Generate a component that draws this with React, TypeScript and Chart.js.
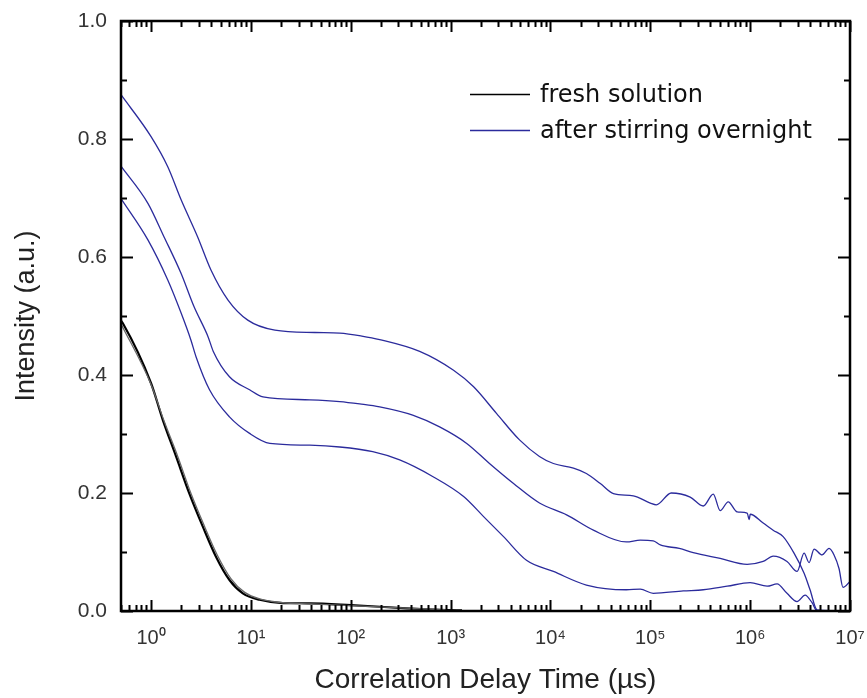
import React, { useEffect, useRef } from "react";
import { Chart, registerables } from "chart.js";

Chart.register(...registerables);

// ---------- data ----------
const X_TICKS = [1, 10, 100, 1000, 10000, 100000, 1000000, 10000000];
const X_TICK_LABELS = ["10⁰", "10¹", "10²", "10³", "10⁴", "10⁵", "10⁶", "10⁷"];
const Y_TICKS = [0, 0.2, 0.4, 0.6, 0.8, 1.0];
const Y_TICK_LABELS = ["0.0", "0.2", "0.4", "0.6", "0.8", "1.0"];
const LEGEND_LABELS = ["fresh solution", "after stirring overnight"];
const X_TITLE = "Correlation Delay Time (µs)";
const Y_TITLE = "Intensity (a.u.)";

// fresh solution (two overlapping runs)
const freshT = [0.5, 0.52, 1, 1.31, 1.78, 2.42, 3.3, 4.47, 6.1, 8.3, 12.2, 20.9, 39, 100, 363, 575, 912, 1300];
const freshI = [0.492, 0.488, 0.386, 0.324, 0.262, 0.199, 0.143, 0.092, 0.0525, 0.03, 0.019, 0.0135, 0.013, 0.01, 0.0046, 0.003, 0.0017, 0.001];
const fresh2T = [0.5, 1, 1.35, 1.85, 2.5, 3.4, 4.6, 6.3, 8.6, 12.5, 21, 40, 100, 360, 900];
const fresh2I = [0.487, 0.384, 0.322, 0.262, 0.2, 0.145, 0.095, 0.055, 0.032, 0.02, 0.014, 0.012, 0.009, 0.005, 0.002];

// after stirring overnight – upper curve
const topT = [0.5, 1, 1.47, 2.0, 2.93, 3.98, 5.9, 9.3, 17.4, 43.7, 77.6, 129, 195, 490, 1070, 1700, 2880, 4900, 7760, 10700, 17000, 22900, 31600, 42700, 67600, 100000, 115000, 162000, 251000, 339000, 427000, 501000, 603000, 741000, 933000, 980000, 1000000, 1350000, 1700000, 2140000, 2750000, 3470000, 3980000, 4680000, 10000000];
const topI = [0.875, 0.804, 0.753, 0.697, 0.634, 0.578, 0.527, 0.493, 0.476, 0.472, 0.471, 0.466, 0.46, 0.44, 0.408, 0.38, 0.335, 0.29, 0.262, 0.25, 0.242, 0.233, 0.216, 0.199, 0.195, 0.183, 0.18, 0.2, 0.193, 0.178, 0.198, 0.17, 0.185, 0.168, 0.166, 0.155, 0.164, 0.149, 0.137, 0.126, 0.098, 0.064, 0.036, 0.002, 0];

// after stirring overnight – middle curve
const midT = [0.5, 0.93, 1.35, 2.0, 2.69, 3.72, 4.2, 6.1, 9.7, 13.2, 38.9, 77.6, 123, 195, 417, 776, 1450, 2450, 4270, 7760, 14500, 26900, 57500, 79400, 107000, 126000, 195000, 269000, 501000, 933000, 1350000, 1700000, 2340000, 2950000, 3470000, 3890000, 4370000, 5250000, 6170000, 6920000, 7760000, 8510000, 10000000];
const midI = [0.754, 0.691, 0.634, 0.572, 0.516, 0.465, 0.44, 0.397, 0.375, 0.363, 0.358, 0.355, 0.351, 0.346, 0.332, 0.312, 0.284, 0.25, 0.216, 0.183, 0.163, 0.137, 0.117, 0.12, 0.119, 0.112, 0.106, 0.099, 0.089, 0.079, 0.084, 0.093, 0.084, 0.067, 0.098, 0.082, 0.105, 0.095, 0.106, 0.095, 0.072, 0.04, 0.05];

// after stirring overnight – lower curve
const lowT = [0.5, 0.93, 1.47, 2.0, 2.51, 2.82, 3.85, 6.1, 9.7, 15.5, 38.9, 77.6, 166, 309, 661, 1350, 2140, 3390, 5750, 10700, 22900, 57500, 79400, 107000, 214000, 339000, 589000, 1000000, 1480000, 1860000, 2340000, 2950000, 3550000, 4170000, 4680000, 10000000];
const lowI = [0.699, 0.629, 0.561, 0.505, 0.459, 0.431, 0.375, 0.329, 0.301, 0.284, 0.281, 0.278, 0.27, 0.256, 0.228, 0.194, 0.16, 0.126, 0.086, 0.067, 0.044, 0.036, 0.037, 0.03, 0.034, 0.036, 0.042, 0.048, 0.042, 0.046, 0.03, 0.016, 0.027, 0.014, 0, 0];

const BLUE = "#2b2b9c";
const FONT = '"Liberation Sans", Arial, sans-serif';

const pts = (t: number[], v: number[]) => t.map((x, i) => ({ x, y: v[i] }));

const framePlugin = {
  id: "frameTicksLegend",
  afterDraw(chart: any) {
    const { ctx, chartArea: a, scales } = chart;
    const xs = scales.x;
    const ys = scales.y;
    ctx.save();
    ctx.strokeStyle = "#000";
    ctx.lineWidth = 2;
    ctx.beginPath();
    // x ticks (inside, top & bottom)
    for (let d = -1; d <= 7; d++) {
      for (let m = 1; m <= 9; m++) {
        const v = m * Math.pow(10, d);
        if (v < xs.min - 1e-9 || v > xs.max * 1.0000001) continue;
        const px = Math.round(xs.getPixelForValue(v)) + 0.5;
        const len = m === 1 ? 11 : 6;
        ctx.moveTo(px, a.bottom);
        ctx.lineTo(px, a.bottom - len);
        ctx.moveTo(px, a.top);
        ctx.lineTo(px, a.top + len);
      }
    }
    // y ticks (inside, left & right)
    for (let k = 0; k <= 10; k++) {
      const v = k / 10;
      const py = Math.round(ys.getPixelForValue(v)) + 0.5;
      const len = k % 2 === 0 ? 12 : 6;
      ctx.moveTo(a.left, py);
      ctx.lineTo(a.left + len, py);
      ctx.moveTo(a.right, py);
      ctx.lineTo(a.right - len, py);
    }
    ctx.stroke();
    // frame
    ctx.lineWidth = 2.5;
    ctx.strokeRect(a.left, a.top, a.right - a.left, a.bottom - a.top);

    // legend
    const colors = ["#000000", BLUE];
    const lx = a.left + 349;
    const ly0 = a.top + 73;
    ctx.font = '24px "DejaVu Sans", Verdana, sans-serif';
    ctx.textBaseline = "middle";
    ctx.textAlign = "left";
    LEGEND_LABELS.forEach((lab, i) => {
      const y = ly0 + i * 36;
      ctx.strokeStyle = colors[i];
      ctx.lineWidth = 1.3;
      ctx.beginPath();
      ctx.moveTo(lx, y + 0.5);
      ctx.lineTo(lx + 60, y + 0.5);
      ctx.stroke();
      ctx.fillStyle = "#111";
      ctx.fillText(lab, lx + 70, y + 2);
    });
    ctx.restore();
  },
};

export default function App() {
  const ref = useRef<HTMLCanvasElement | null>(null);
  useEffect(() => {
    if (!ref.current) return;
    const line = (data: any, color: string, width: number) => ({
      data,
      borderColor: color,
      backgroundColor: color,
      borderWidth: width,
      pointRadius: 0,
      fill: false,
      cubicInterpolationMode: "monotone" as const,
    });
    const chart = new Chart(ref.current, {
      type: "line",
      data: {
        datasets: [
          line(pts(topT, topI), BLUE, 1.3),
          line(pts(midT, midI), BLUE, 1.3),
          line(pts(lowT, lowI), BLUE, 1.3),
          line(pts(fresh2T, fresh2I), "#666666", 1.3),
          line(pts(freshT, freshI), "#000000", 2.2),
        ],
      },
      options: {
        animation: false,
        responsive: false,
        events: [],
        layout: { padding: { left: 0, top: 21, right: 17, bottom: 0 } },
        plugins: { legend: { display: false }, tooltip: { enabled: false } },
        scales: {
          x: {
            type: "logarithmic",
            min: 0.5,
            max: 1e7,
            grid: { display: false, drawTicks: false },
            border: { display: false },
            afterBuildTicks: (s: any) => {
              s.ticks = X_TICKS.map((v) => ({ value: v, major: true }));
            },
            afterFit: (s: any) => {
              s.height = 87;
              s.paddingLeft = 0;
              s.paddingRight = 0;
            },
            ticks: {
              autoSkip: false,
              maxRotation: 0,
              padding: 15,
              color: "#333",
              font: { family: FONT, size: 20 },
              callback: (v: any) => X_TICK_LABELS[X_TICKS.indexOf(Number(v))] ?? "",
            },
            title: {
              display: true,
              text: X_TITLE,
              color: "#222",
              font: { family: FONT, size: 28 },
              padding: { top: 0, bottom: 1 },
            },
          },
          y: {
            type: "linear",
            min: 0,
            max: 1,
            grid: { display: false, drawTicks: false },
            border: { display: false },
            afterBuildTicks: (s: any) => {
              s.ticks = Y_TICKS.map((v) => ({ value: v }));
            },
            afterFit: (s: any) => {
              s.width = 121;
              s.paddingTop = 0;
              s.paddingBottom = 0;
            },
            ticks: {
              padding: 14,
              color: "#333",
              font: { family: FONT, size: 21 },
              callback: (v: any) => Y_TICK_LABELS[Y_TICKS.findIndex((t) => Math.abs(t - Number(v)) < 1e-6)] ?? "",
            },
            title: {
              display: true,
              text: Y_TITLE,
              color: "#222",
              font: { family: FONT, size: 27 },
              padding: { top: 10, bottom: 0 },
            },
          },
        },
      },
      plugins: [framePlugin],
    });
    return () => chart.destroy();
  }, []);

  return (
    <div style={{ position: "absolute", left: 0, top: 0, width: 867, height: 698, background: "#fff" }}>
      <canvas ref={ref} width={867} height={698} style={{ display: "block", width: 867, height: 698 }} />
    </div>
  );
}
